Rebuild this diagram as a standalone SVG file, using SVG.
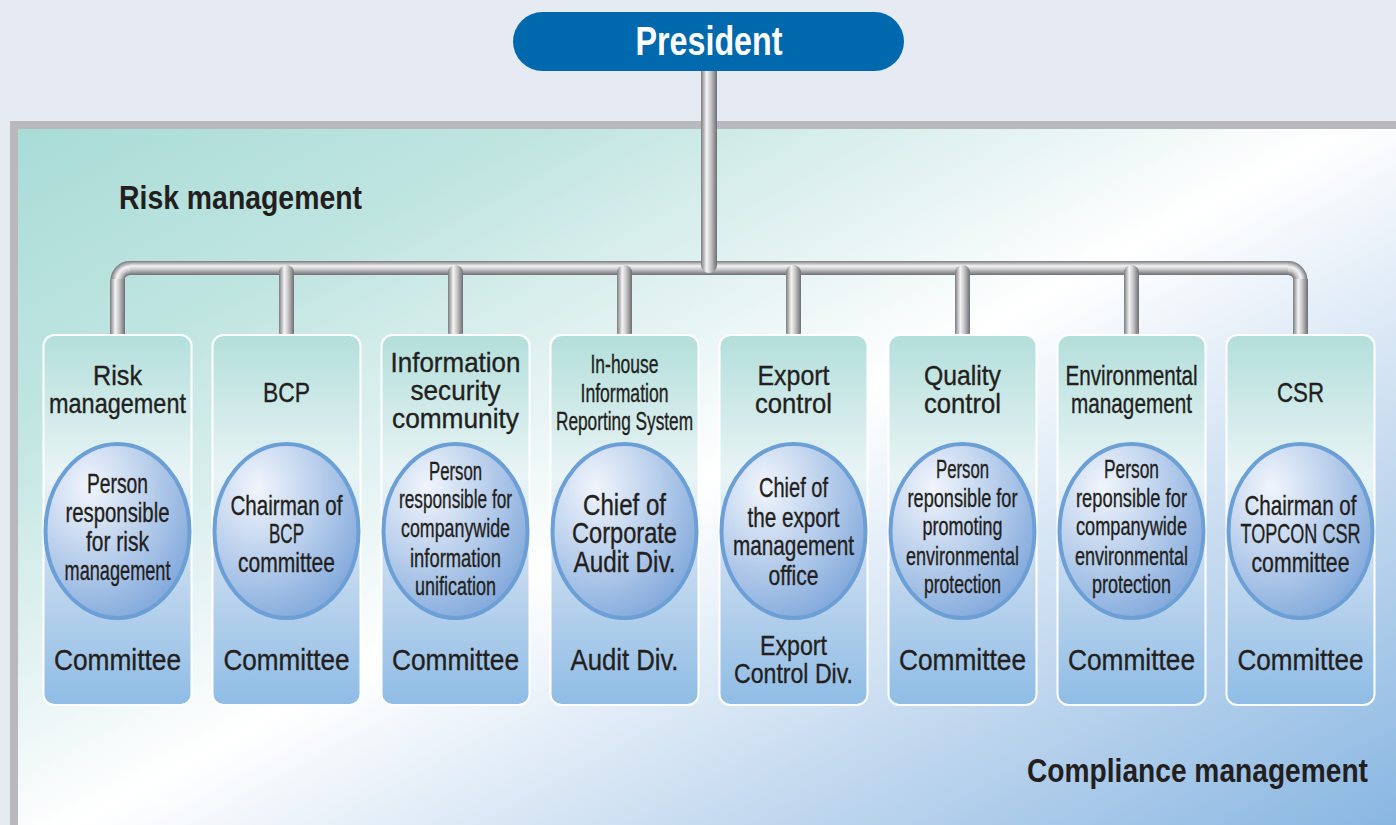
<svg xmlns="http://www.w3.org/2000/svg" width="1396" height="825" viewBox="0 0 1396 825">
<defs>
<style>
.t{font-family:"Liberation Sans Narrow","Liberation Sans",Arial,sans-serif;fill:#231f20;stroke:#231f20;stroke-width:0.35;text-anchor:middle}
.top{font-size:28px}
.top2{font-size:26px}
.in{font-size:28px}
.in2{font-size:26px}
.in3{font-size:29px}
.bot{font-size:30px}
.bot2{font-size:28px}
.title{font-family:"Liberation Sans Narrow","Liberation Sans",Arial,sans-serif;font-weight:bold;font-size:33px;fill:#231f20}
.box{fill:url(#boxG);stroke:#ffffff;stroke-width:2}
.ell{fill:url(#ellG);stroke:#6b9fd6;stroke-width:4}
.vp{fill:url(#vPipe)}
</style>
<linearGradient id="panelG" gradientUnits="userSpaceOnUse" x1="58" y1="107" x2="670" y2="1228">
<stop offset="0" stop-color="#a9dcd7"/>
<stop offset="0.2" stop-color="#c0e5e1"/>
<stop offset="0.42" stop-color="#eef7f7"/>
<stop offset="0.5" stop-color="#ffffff"/>
<stop offset="0.75" stop-color="#c3d9ef"/>
<stop offset="1" stop-color="#88b6e2"/>
</linearGradient>
<linearGradient id="boxG" x1="0" y1="0" x2="0" y2="1">
<stop offset="0" stop-color="#b3dfdb"/>
<stop offset="0.38" stop-color="#e9f4f5"/>
<stop offset="0.6" stop-color="#c9dcf0"/>
<stop offset="1" stop-color="#8fbce5"/>
</linearGradient>
<radialGradient id="ellG" cx="0.3" cy="0.25" r="0.85">
<stop offset="0" stop-color="#f1f5fc"/>
<stop offset="0.5" stop-color="#b9cfec"/>
<stop offset="1" stop-color="#7ea6da"/>
</radialGradient>
<linearGradient id="vPipe" x1="0" y1="0" x2="1" y2="0">
<stop offset="0" stop-color="#7b7b7f"/>
<stop offset="0.35" stop-color="#f4f4f4"/>
<stop offset="0.6" stop-color="#c9c9cb"/>
<stop offset="1" stop-color="#6e6e72"/>
</linearGradient>
<linearGradient id="hPipe" x1="0" y1="0" x2="0" y2="1">
<stop offset="0" stop-color="#7b7b7f"/>
<stop offset="0.35" stop-color="#f4f4f4"/>
<stop offset="0.6" stop-color="#c9c9cb"/>
<stop offset="1" stop-color="#6e6e72"/>
</linearGradient>
<radialGradient id="cornerL" gradientUnits="userSpaceOnUse" cx="130" cy="280" r="19">
<stop offset="0.26" stop-color="#6e6e72"/>
<stop offset="0.5" stop-color="#c9c9cb"/>
<stop offset="0.7" stop-color="#f4f4f4"/>
<stop offset="1" stop-color="#7b7b7f"/>
</radialGradient>
<radialGradient id="cornerR" gradientUnits="userSpaceOnUse" cx="1288" cy="280" r="19">
<stop offset="0.26" stop-color="#6e6e72"/>
<stop offset="0.5" stop-color="#c9c9cb"/>
<stop offset="0.7" stop-color="#f4f4f4"/>
<stop offset="1" stop-color="#7b7b7f"/>
</radialGradient>
</defs>

<rect x="0" y="0" width="1396" height="825" fill="#e6ebf3"/>
<rect x="10" y="121" width="1386" height="704" fill="#b9b9bd"/>
<rect x="18" y="129" width="1378" height="696" fill="url(#panelG)"/>

<text class="title" x="119" y="209" textLength="243" lengthAdjust="spacingAndGlyphs">Risk management</text>
<text class="title" x="1027" y="782" textLength="341" lengthAdjust="spacingAndGlyphs">Compliance management</text>

<g id="connectors">
<rect x="130" y="261" width="1158" height="14" fill="url(#hPipe)"/>
<path d="M117.5 335 V280 A12.5 12.5 0 0 1 130 268" fill="none" stroke="url(#cornerL)" stroke-width="14"/>
<path d="M1300.5 335 V280 A12.5 12.5 0 0 0 1288 268" fill="none" stroke="url(#cornerR)" stroke-width="14"/>
<rect x="110" y="279" width="15" height="56" class="vp"/>
<rect x="1293" y="279" width="15" height="56" class="vp"/>
<rect x="279" y="265" width="15" height="75" rx="7.5" class="vp"/>
<rect x="448" y="265" width="15" height="75" rx="7.5" class="vp"/>
<rect x="617" y="265" width="15" height="75" rx="7.5" class="vp"/>
<rect x="786" y="265" width="15" height="75" rx="7.5" class="vp"/>
<rect x="955" y="265" width="15" height="75" rx="7.5" class="vp"/>
<rect x="1124" y="265" width="15" height="75" rx="7.5" class="vp"/>
<rect x="701" y="50" width="16" height="223" rx="8" class="vp"/>
</g>

<g id="president">
<rect x="513" y="12" width="391" height="59" rx="29.5" fill="#0068ad"/>
<text x="709" y="55" font-family="Liberation Sans Narrow, Liberation Sans, Arial, sans-serif" font-weight="bold" font-size="40" fill="#ffffff" text-anchor="middle" textLength="147" lengthAdjust="spacingAndGlyphs">President</text>
</g>

<g id="risk">
<rect class="box" x="43.5" y="335" width="148" height="370" rx="11"/>
<ellipse class="ell" cx="117.5" cy="531" rx="72" ry="87"/>
<text class="t top" x="117.5" y="385" textLength="49" lengthAdjust="spacingAndGlyphs">Risk</text>
<text class="t top" x="117.5" y="413" textLength="137" lengthAdjust="spacingAndGlyphs">management</text>
<text class="t in" x="117.5" y="493" textLength="61" lengthAdjust="spacingAndGlyphs">Person</text>
<text class="t in" x="117.5" y="522" textLength="104" lengthAdjust="spacingAndGlyphs">responsible</text>
<text class="t in" x="117.5" y="551" textLength="63" lengthAdjust="spacingAndGlyphs">for risk</text>
<text class="t in" x="117.5" y="580" textLength="106" lengthAdjust="spacingAndGlyphs">management</text>
<text class="t bot" x="117.5" y="670" textLength="127" lengthAdjust="spacingAndGlyphs">Committee</text>
</g>

<g id="bcp">
<rect class="box" x="212.5" y="335" width="148" height="370" rx="11"/>
<ellipse class="ell" cx="286.5" cy="531" rx="72" ry="87"/>
<text class="t top" x="286.5" y="402" textLength="47" lengthAdjust="spacingAndGlyphs">BCP</text>
<text class="t in" x="286.5" y="515" textLength="112" lengthAdjust="spacingAndGlyphs">Chairman of</text>
<text class="t in" x="286.5" y="543" textLength="35" lengthAdjust="spacingAndGlyphs">BCP</text>
<text class="t in" x="286.5" y="572" textLength="97" lengthAdjust="spacingAndGlyphs">committee</text>
<text class="t bot" x="286.5" y="670" textLength="126" lengthAdjust="spacingAndGlyphs">Committee</text>
</g>

<g id="infosec">
<rect class="box" x="381.5" y="335" width="148" height="370" rx="11"/>
<ellipse class="ell" cx="455.5" cy="531" rx="72" ry="87"/>
<text class="t top" x="455.5" y="372" textLength="130" lengthAdjust="spacingAndGlyphs">Information</text>
<text class="t top" x="455.5" y="400" textLength="90" lengthAdjust="spacingAndGlyphs">security</text>
<text class="t top" x="455.5" y="428" textLength="127" lengthAdjust="spacingAndGlyphs">community</text>
<text class="t in2" x="455.5" y="480" textLength="53" lengthAdjust="spacingAndGlyphs">Person</text>
<text class="t in2" x="455.5" y="508" textLength="113" lengthAdjust="spacingAndGlyphs">responsible for</text>
<text class="t in2" x="455.5" y="537" textLength="109" lengthAdjust="spacingAndGlyphs">companywide</text>
<text class="t in2" x="455.5" y="567" textLength="91" lengthAdjust="spacingAndGlyphs">information</text>
<text class="t in2" x="455.5" y="595" textLength="81" lengthAdjust="spacingAndGlyphs">unification</text>
<text class="t bot" x="455.5" y="670" textLength="127" lengthAdjust="spacingAndGlyphs">Committee</text>
</g>

<g id="inhouse">
<rect class="box" x="550.5" y="335" width="148" height="370" rx="11"/>
<ellipse class="ell" cx="624.5" cy="531" rx="72" ry="87"/>
<text class="t top2" x="624.5" y="373" textLength="68" lengthAdjust="spacingAndGlyphs">In-house</text>
<text class="t top2" x="624.5" y="402" textLength="88" lengthAdjust="spacingAndGlyphs">Information</text>
<text class="t top2" x="624.5" y="430" textLength="137" lengthAdjust="spacingAndGlyphs">Reporting System</text>
<text class="t in3" x="624.5" y="515" textLength="83" lengthAdjust="spacingAndGlyphs">Chief of</text>
<text class="t in3" x="624.5" y="543" textLength="105" lengthAdjust="spacingAndGlyphs">Corporate</text>
<text class="t in3" x="624.5" y="572" textLength="102" lengthAdjust="spacingAndGlyphs">Audit Div.</text>
<text class="t bot" x="624.5" y="670" textLength="108" lengthAdjust="spacingAndGlyphs">Audit Div.</text>
</g>

<g id="export">
<rect class="box" x="719.5" y="335" width="148" height="370" rx="11"/>
<ellipse class="ell" cx="793.5" cy="531" rx="72" ry="87"/>
<text class="t top" x="793.5" y="385" textLength="72" lengthAdjust="spacingAndGlyphs">Export</text>
<text class="t top" x="793.5" y="413" textLength="77" lengthAdjust="spacingAndGlyphs">control</text>
<text class="t in" x="793.5" y="497" textLength="69" lengthAdjust="spacingAndGlyphs">Chief of</text>
<text class="t in" x="793.5" y="527" textLength="92" lengthAdjust="spacingAndGlyphs">the export</text>
<text class="t in" x="793.5" y="555" textLength="121" lengthAdjust="spacingAndGlyphs">management</text>
<text class="t in" x="793.5" y="585" textLength="50" lengthAdjust="spacingAndGlyphs">office</text>
<text class="t bot2" x="793.5" y="655" textLength="67" lengthAdjust="spacingAndGlyphs">Export</text>
<text class="t bot2" x="793.5" y="683" textLength="119" lengthAdjust="spacingAndGlyphs">Control Div.</text>
</g>

<g id="quality">
<rect class="box" x="888.5" y="335" width="148" height="370" rx="11"/>
<ellipse class="ell" cx="962.5" cy="531" rx="72" ry="87"/>
<text class="t top" x="962.5" y="385" textLength="77" lengthAdjust="spacingAndGlyphs">Quality</text>
<text class="t top" x="962.5" y="413" textLength="77" lengthAdjust="spacingAndGlyphs">control</text>
<text class="t in2" x="962.5" y="478" textLength="53" lengthAdjust="spacingAndGlyphs">Person</text>
<text class="t in2" x="962.5" y="507" textLength="110" lengthAdjust="spacingAndGlyphs">reponsible for</text>
<text class="t in2" x="962.5" y="535" textLength="80" lengthAdjust="spacingAndGlyphs">promoting</text>
<text class="t in2" x="962.5" y="565" textLength="113" lengthAdjust="spacingAndGlyphs">environmental</text>
<text class="t in2" x="962.5" y="593" textLength="77" lengthAdjust="spacingAndGlyphs">protection</text>
<text class="t bot" x="962.5" y="670" textLength="127" lengthAdjust="spacingAndGlyphs">Committee</text>
</g>

<g id="environmental">
<rect class="box" x="1057.5" y="335" width="148" height="370" rx="11"/>
<ellipse class="ell" cx="1131.5" cy="531" rx="72" ry="87"/>
<text class="t top" x="1131.5" y="385" textLength="132" lengthAdjust="spacingAndGlyphs">Environmental</text>
<text class="t top" x="1131.5" y="413" textLength="121" lengthAdjust="spacingAndGlyphs">management</text>
<text class="t in2" x="1131.5" y="478" textLength="55" lengthAdjust="spacingAndGlyphs">Person</text>
<text class="t in2" x="1131.5" y="507" textLength="111" lengthAdjust="spacingAndGlyphs">reponsible for</text>
<text class="t in2" x="1131.5" y="535" textLength="111" lengthAdjust="spacingAndGlyphs">companywide</text>
<text class="t in2" x="1131.5" y="565" textLength="113" lengthAdjust="spacingAndGlyphs">environmental</text>
<text class="t in2" x="1131.5" y="593" textLength="79" lengthAdjust="spacingAndGlyphs">protection</text>
<text class="t bot" x="1131.5" y="670" textLength="127" lengthAdjust="spacingAndGlyphs">Committee</text>
</g>

<g id="csr">
<rect class="box" x="1226.5" y="335" width="148" height="370" rx="11"/>
<ellipse class="ell" cx="1300.5" cy="531" rx="72" ry="87"/>
<text class="t top" x="1300.5" y="402" textLength="47" lengthAdjust="spacingAndGlyphs">CSR</text>
<text class="t in" x="1300.5" y="515" textLength="112" lengthAdjust="spacingAndGlyphs">Chairman of</text>
<text class="t in" x="1300.5" y="543" textLength="120" lengthAdjust="spacingAndGlyphs">TOPCON CSR</text>
<text class="t in" x="1300.5" y="572" textLength="98" lengthAdjust="spacingAndGlyphs">committee</text>
<text class="t bot" x="1300.5" y="670" textLength="126" lengthAdjust="spacingAndGlyphs">Committee</text>
</g>
</svg>
